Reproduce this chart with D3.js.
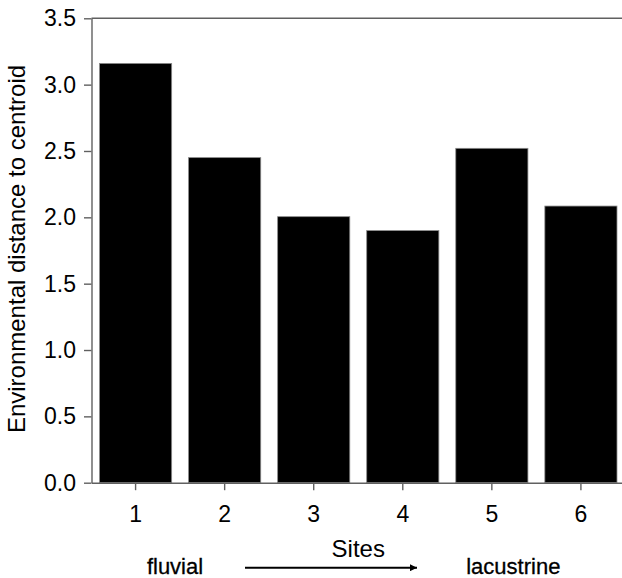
<!DOCTYPE html>
<html>
<head>
<meta charset="utf-8">
<script src="https://cdn.jsdelivr.net/npm/d3@7"></script>
<style>
  html, body { margin: 0; padding: 0; background: #fff; }
  svg { display: block; font-family: "Liberation Sans", Arial, sans-serif; }
</style>
</head>
<body>
<svg id="chart" width="622" height="578"></svg>
<script>
const sites = ["1", "2", "3", "4", "5", "6"];
const distances = [3.16, 2.45, 2.005, 1.90, 2.52, 2.085];
const yTicks = [0.0, 0.5, 1.0, 1.5, 2.0, 2.5, 3.0, 3.5];
const yTitle = "Environmental distance to centroid";
const xTitle = "Sites";
const gradientLabels = ["fluvial", "lacustrine"];

const svg = d3.select("#chart");
const axisColor = "#606060";

const plotLeft = 91.5, plotRight = 625, plotTop = 18.3, plotBottom = 482.7;

const x = d3.scaleBand().domain(sites).range([plotLeft, plotRight])
  .paddingInner(0.19).paddingOuter(0.09);
const y = d3.scaleLinear().domain([0, 3.5]).range([plotBottom, plotTop]);

// top frame line
svg.append("line")
  .attr("x1", plotLeft).attr("x2", plotRight)
  .attr("y1", y(3.5)).attr("y2", y(3.5))
  .attr("stroke", axisColor).attr("stroke-width", 1.4);

// bars
svg.append("g").selectAll("rect").data(sites).join("rect")
  .attr("x", (d) => x(d))
  .attr("y", (d, i) => y(distances[i]))
  .attr("width", x.bandwidth())
  .attr("height", (d, i) => y(0) - y(distances[i]))
  .attr("fill", "#000")
  .attr("stroke", "#8a8a8a")
  .attr("stroke-width", 0.8);

// y axis
const gy = svg.append("g").attr("transform", `translate(${plotLeft},0)`)
  .call(d3.axisLeft(y).tickValues(yTicks).tickFormat(d3.format(".1f"))
    .tickSize(7.5).tickSizeOuter(0).tickPadding(8));
gy.selectAll("path, line").attr("stroke", axisColor).attr("stroke-width", 1.4);
gy.selectAll("text").attr("font-size", 23).attr("fill", "#000")
  .attr("font-family", "Liberation Sans, Arial, sans-serif");

// x axis
const gx = svg.append("g").attr("transform", `translate(0,${plotBottom})`)
  .call(d3.axisBottom(x).tickSize(7.5).tickSizeOuter(0));
gx.selectAll("path, line").attr("stroke", axisColor).attr("stroke-width", 1.4);
gx.selectAll("text").attr("font-size", 23).attr("fill", "#000")
  .attr("y", 39).attr("dy", 0)
  .attr("font-family", "Liberation Sans, Arial, sans-serif");

// y title
svg.append("text")
  .attr("transform", "translate(25,249) rotate(-90)")
  .attr("text-anchor", "middle")
  .attr("font-size", 24)
  .text(yTitle);

// x title
svg.append("text")
  .attr("x", 358.3).attr("y", 556.7)
  .attr("text-anchor", "middle")
  .attr("font-size", 24)
  .text(xTitle);

// gradient labels
svg.append("text")
  .attr("x", 175).attr("y", 573.5)
  .attr("text-anchor", "middle")
  .attr("font-size", 22)
  .attr("stroke", "#000").attr("stroke-width", 0.3)
  .text(gradientLabels[0]);
svg.append("text")
  .attr("x", 513.3).attr("y", 573.5)
  .attr("text-anchor", "middle")
  .attr("font-size", 22)
  .attr("stroke", "#000").attr("stroke-width", 0.3)
  .text(gradientLabels[1]);

// arrow
svg.append("defs").append("marker")
  .attr("id", "arrowhead")
  .attr("viewBox", "0 0 10 10")
  .attr("refX", 10).attr("refY", 5)
  .attr("markerUnits", "userSpaceOnUse")
  .attr("markerWidth", 9).attr("markerHeight", 7)
  .attr("orient", "auto")
  .append("path").attr("d", "M0,0 L10,5 L0,10 Z").attr("fill", "#000");

svg.append("line")
  .attr("x1", 245).attr("x2", 417)
  .attr("y1", 567.7).attr("y2", 567.7)
  .attr("stroke", "#000").attr("stroke-width", 2)
  .attr("marker-end", "url(#arrowhead)");
</script>
</body>
</html>
